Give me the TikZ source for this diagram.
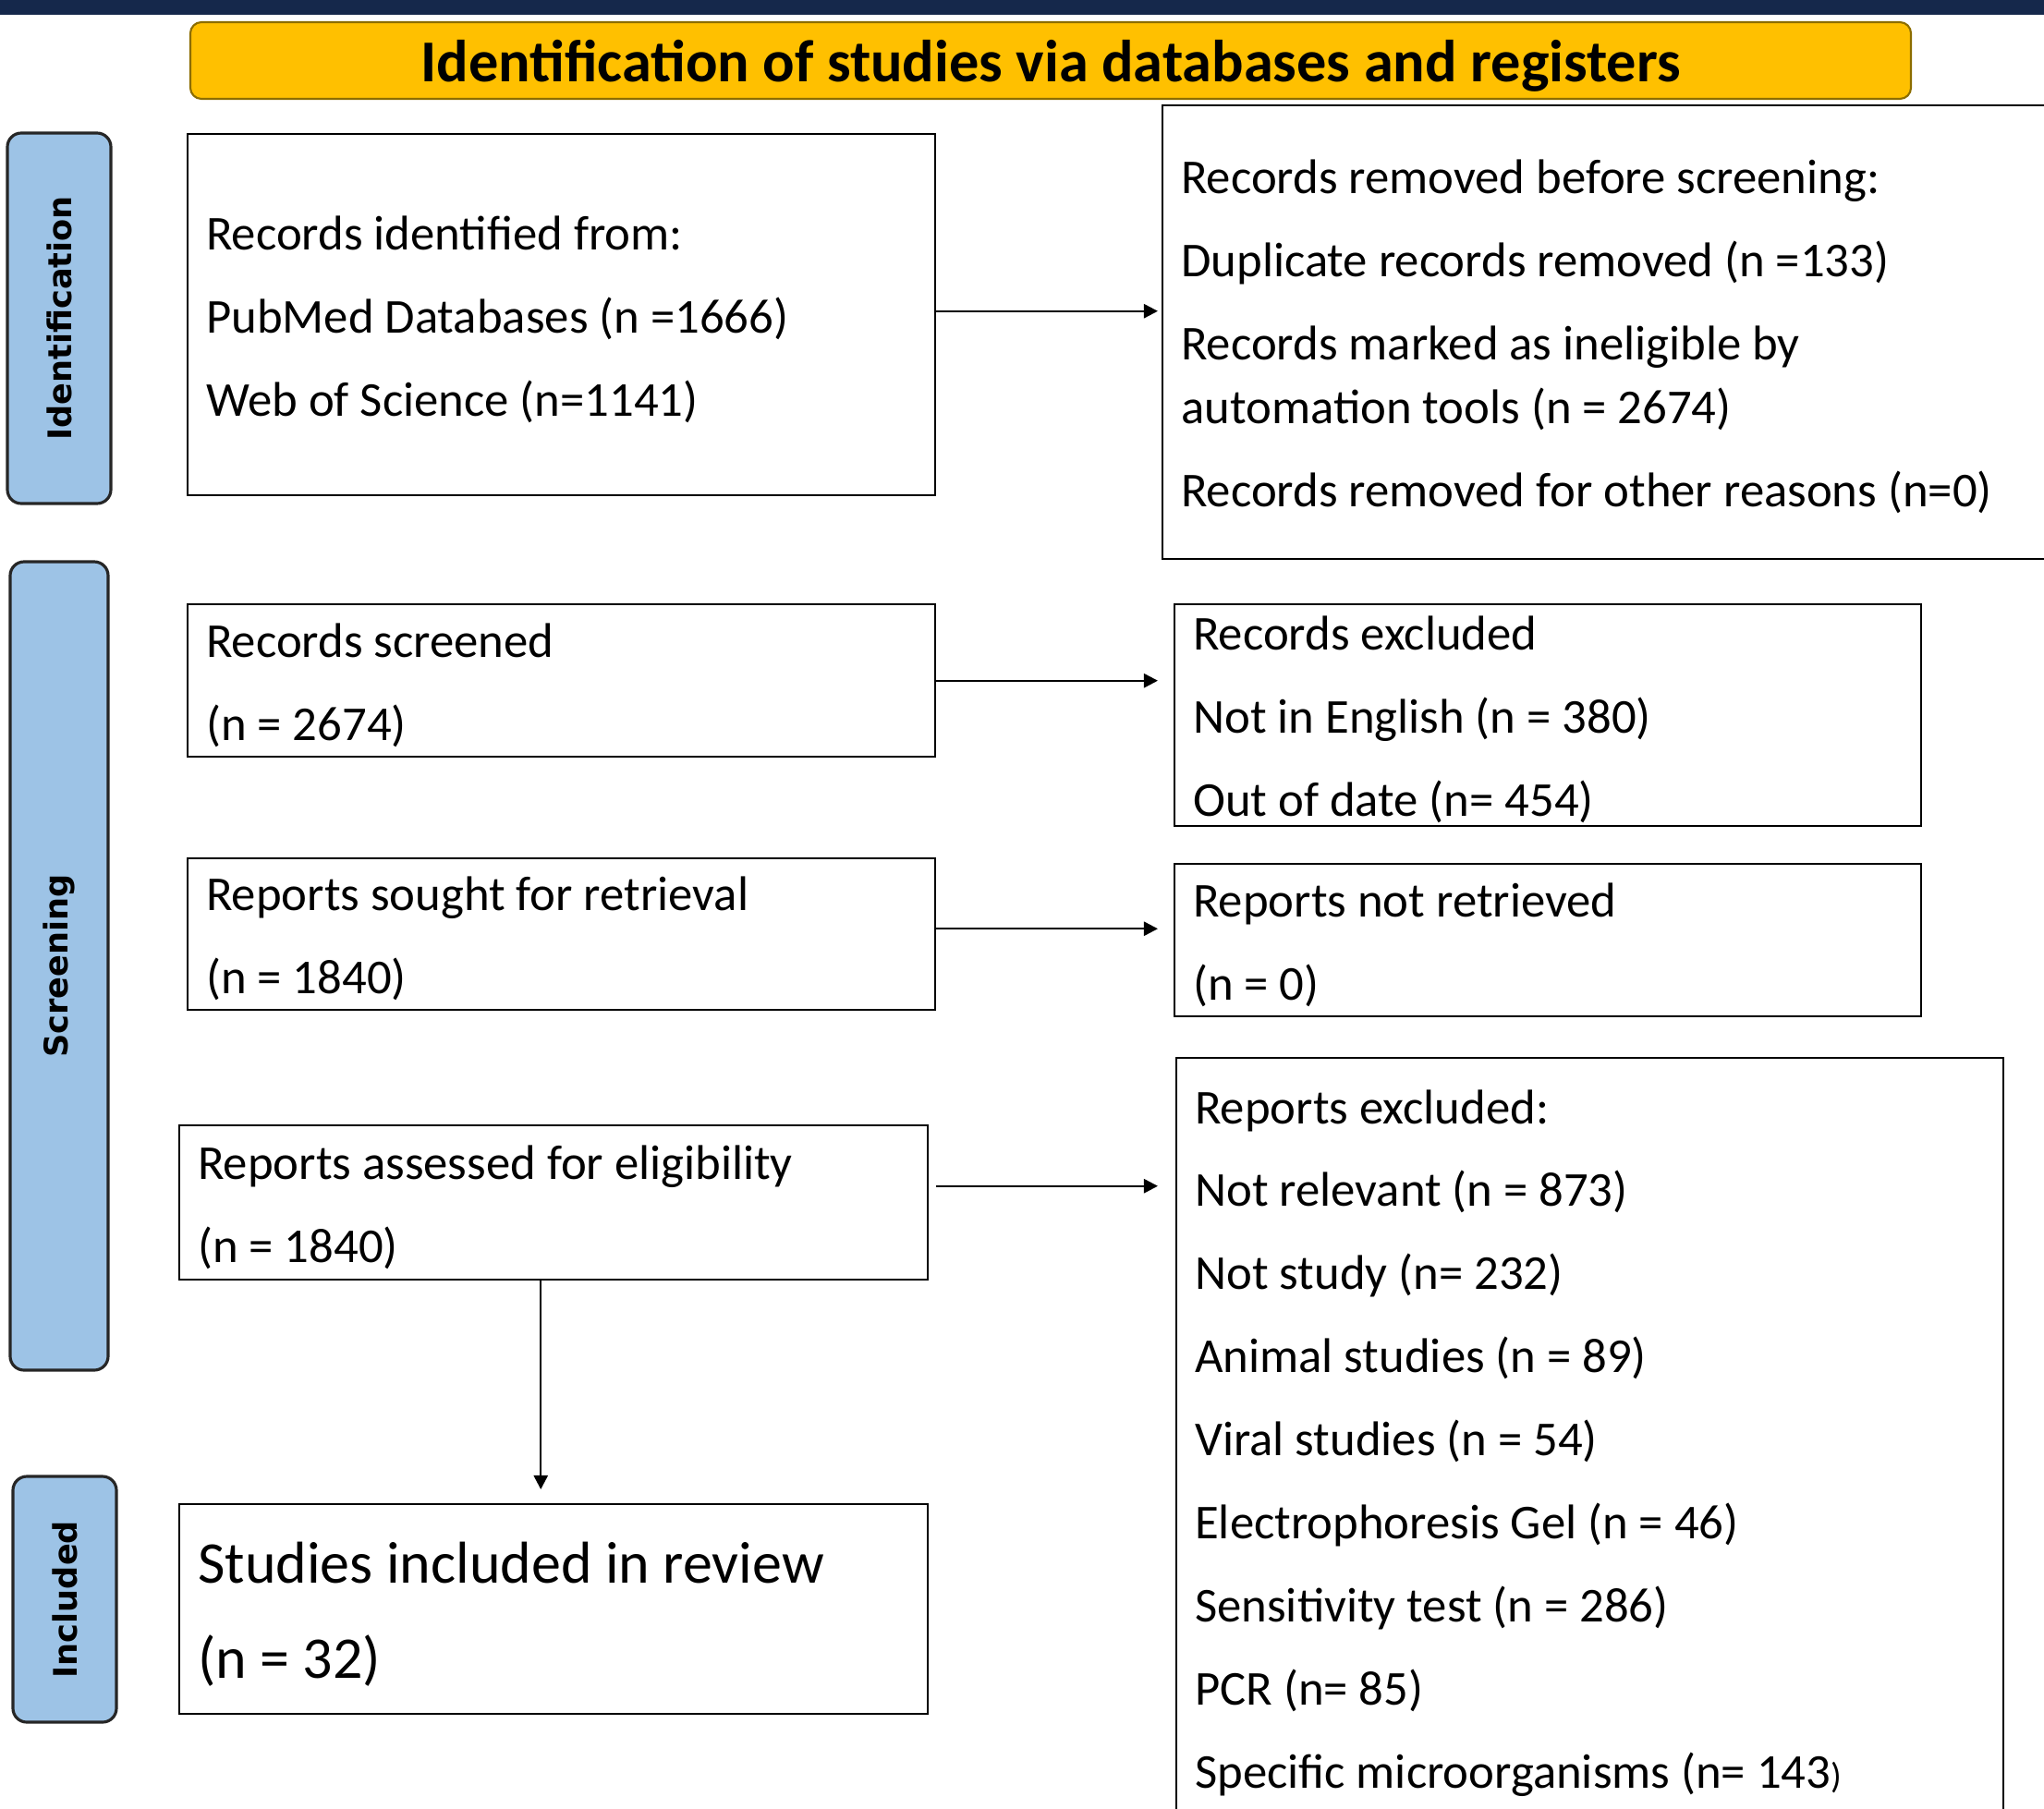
\documentclass[tikz,border=0pt]{standalone}
\usepackage{fontspec}
\setmainfont{Carlito}
\newfontfamily\sidefont{DejaVu Sans}
\usetikzlibrary{arrows.meta,positioning}

\definecolor{barnavy}{HTML}{15284B}
\definecolor{bannergold}{HTML}{FFC000}
\definecolor{bannerrim}{HTML}{8C6D00}
\definecolor{stageblue}{HTML}{9DC3E6}

\tikzset{
  flowbox/.style={draw=black, line width=0.7pt, anchor=north west, align=flush left,
    inner xsep=0.2cm, inner ysep=0pt, font=\fontsize{15pt}{19.6pt}\selectfont,
    execute at begin node={\spaceskip=\fontdimen2\font\relax\rule{0pt}{0.88em}}},
  stagebox/.style={draw=black!85, fill=stageblue, line width=0.9pt, rounded corners=0.15cm,
    rotate=90, inner sep=0pt, font=\sidefont\bfseries\fontsize{10pt}{12pt}\selectfont},
  banner/.style={draw=bannerrim, fill=bannergold, line width=0.6pt, rounded corners=0.12cm,
    minimum width=18.62cm, minimum height=0.83cm, inner ysep=0pt, text height=17pt, text depth=3.7pt,
    font=\bfseries\fontsize{18.3pt}{20pt}\selectfont},
  flowarrow/.style={-{Triangle[length=4.3pt,width=4.3pt]}, line width=0.7pt},
}

\begin{document}
\begin{tikzpicture}
  \useasboundingbox (0,0) rectangle (22.12,-19.57);
  \clip (0,0) rectangle (22.12,-19.57);

  % top bar and title
  \fill[barnavy] (0,0) rectangle (22.12,-0.16);
  \node[banner] (title) at (11.37,-0.655) {Identification of studies via databases and registers};

  % stage labels
  \node[stagebox, minimum width=4.01cm, minimum height=1.12cm] (stageid) at (0.64,-3.445) {Identification};
  \node[stagebox, minimum width=8.75cm, minimum height=1.06cm] (stagescr) at (0.64,-10.455) {Screening};
  \node[stagebox, minimum width=2.66cm, minimum height=1.12cm] (stageinc) at (0.70,-17.31) {Included};

  % left column
  \node[flowbox, minimum width=8.09cm, minimum height=3.91cm, text width=7.69cm] (found) at (2.02,-1.44)
    {Records identified from:\\[6pt]
     PubMed Databases (n =1666)\\[6pt]
     Web of Science (n=1141)};
  \node[flowbox, minimum width=8.09cm, minimum height=1.65cm, text width=7.69cm] (screened) at (2.02,-6.53)
    {Records screened\\[6pt]
     (n = 2674)};
  \node[flowbox, minimum width=8.09cm, minimum height=1.64cm, text width=7.69cm] (sought) at (2.02,-9.28)
    {Reports sought for retrieval\\[6pt]
     (n = 1840)};
  \node[flowbox, minimum width=8.10cm, minimum height=1.67cm, text width=7.70cm] (assessed) at (1.93,-12.17)
    {Reports assessed for eligibility\\[6pt]
     (n = 1840)};
  \node[flowbox, minimum width=8.10cm, minimum height=2.27cm, text width=7.70cm,
    font=\fontsize{18.2pt}{29.3pt}\selectfont] (included) at (1.93,-16.27)
    {Studies included in review\\
     (n = 32)};

  % right column
  \node[flowbox, minimum width=10.00cm, minimum height=4.91cm, text width=9.60cm] (removed) at (12.57,-1.13)
    {Records removed before screening:\\[6pt]
     Duplicate records removed (n =133)\\[6pt]
     Records marked as ineligible by\\
     automation tools (n = 2674)\\[6pt]
     Records removed for other reasons (n=0)};
  \node[flowbox, minimum width=8.08cm, minimum height=2.40cm, text width=7.68cm] (excluded) at (12.70,-6.53)
    {Records excluded\\[6pt]
     Not in English (n = 380)\\[6pt]
     Out of date (n= 454)};
  \node[flowbox, minimum width=8.08cm, minimum height=1.65cm, text width=7.68cm] (notret) at (12.70,-9.34)
    {Reports not retrieved\\[6pt]
     (n = 0)};
  \node[flowbox, minimum width=8.95cm, minimum height=8.24cm, text width=8.55cm] (repexcl) at (12.72,-11.44)
    {Reports excluded:\\[6pt]
     Not relevant (n = 873)\\[6pt]
     Not study (n= 232)\\[6pt]
     Animal studies (n = 89)\\[6pt]
     Viral studies (n = 54)\\[6pt]
     Electrophoresis Gel (n = 46)\\[6pt]
     Sensitivity test (n = 286)\\[6pt]
     PCR (n= 85)\\[6pt]
     Specific microorganisms (n= 143{\fontsize{11pt}{11pt}\selectfont)}};

  % connectors
  \draw[flowarrow, shorten >=0.04cm] ([yshift=0.04cm]found.east) -- ([yshift=0.04cm]found.east -| removed.west);
  \draw[flowarrow, shorten >=0.17cm] (screened.east) -- (screened.east -| excluded.west);
  \draw[flowarrow, shorten >=0.17cm] ([yshift=0.06cm]sought.east) -- ([yshift=0.06cm]sought.east -| notret.west);
  \draw[flowarrow, shorten <=0.08cm, shorten >=0.19cm] ([yshift=0.18cm]assessed.east) -- ([yshift=0.18cm]assessed.east -| repexcl.west);
  \draw[flowarrow, shorten >=0.15cm] ([xshift=-0.14cm]assessed.south) -- ([xshift=-0.14cm]assessed.south |- included.north);
\end{tikzpicture}
\end{document}
